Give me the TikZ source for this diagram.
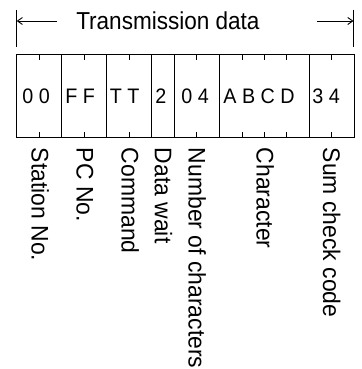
\documentclass[tikz,border=0pt]{standalone}
\usepackage{fontspec}
\setmainfont{Liberation Sans}
\newfontfamily\ttlfont[FakeStretch=0.92]{Liberation Sans}
\newfontfamily\cellfont[FakeStretch=0.94]{Liberation Sans}
\newfontfamily\lblfont[FakeStretch=0.955]{Liberation Sans}
\usetikzlibrary{arrows.meta}
\begin{document}
\begin{tikzpicture}[x=1pt,y=-1pt,line width=0.9pt,
  lbl/.style={rotate=-90,anchor=base west,inner sep=0pt,font=\lblfont\fontsize{24}{28}\selectfont},
  cell/.style={anchor=base west,inner sep=0pt,font=\cellfont\fontsize{21}{25}\selectfont},
  ttl/.style={anchor=base west,inner sep=0pt,font=\ttlfont\fontsize{24.5}{28}\selectfont},
  tip/.style={-{Straight Barb[length=5pt,width=7pt]}}]
\useasboundingbox (0,0) rectangle (361,369);
% title with extent arrows
\coordinate (L1) at (16.7,10); \coordinate (L2) at (16.7,47.5);
\coordinate (R1) at (353.5,10); \coordinate (R2) at (353.5,47.5);
\draw (L1) -- (L2);
\draw (R1) -- (R2);
\node[ttl] (title) at (75.8,30) {Transmission data};
\coordinate (al) at (57,21);
\coordinate (ar) at (317,21);
\draw[tip] (al) -- (L1 |- al);
\draw[tip] (ar) -- (R1 |- ar);
% frame
\draw (16.7,54.3) rectangle (354,137.7);
\foreach \x in {61.7,106.7,151.7,174,219.3,309.3}
  \draw (\x,54.3) -- (\x,137.7);
\foreach \x in {39.3,84,129,196.7,242.3,264.3,286.7,331.7} {
  \draw (\x,54.3) -- ++(0,6);
  \draw (\x,137.7) -- ++(0,-5.5);
}
% cell contents
\node[cell] (c1) at (22,103) {0 0};
\node[cell] (c2) at (65,103) {F F};
\node[cell] (c3) at (109.5,103) {T T};
\node[cell] (c4) at (155,103) {2};
\node[cell] (c5) at (181,103) {0 4};
\node[cell] (c6) at (223,103) {A B C D};
\node[cell] (c7) at (312,103) {3 4};
% labels
\node[lbl] (l1) at (31.5,147.5) {Station No.};
\node[lbl] (l2) at (76.5,147.5) {PC No.};
\node[lbl] (l3) at (121.5,147.5) {Command};
\node[lbl] (l4) at (154.8,147.5) {Data wait};
\node[lbl] (l5) at (188.7,147.5) {Number of characters};
\node[lbl] (l6) at (256.5,147.5) {Character};
\node[lbl] (l7) at (323,147.5) {Sum check code};
\end{tikzpicture}
\end{document}
